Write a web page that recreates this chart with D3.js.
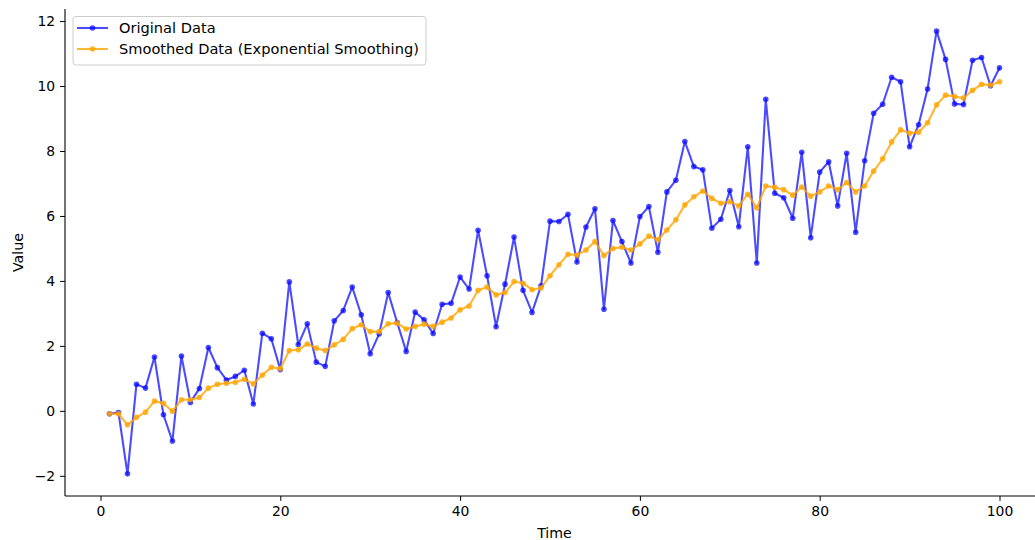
<!DOCTYPE html>
<html>
<head>
<meta charset="utf-8">
<script src="https://cdn.jsdelivr.net/npm/d3@7"></script>
<style>
  html, body { margin: 0; padding: 0; background: #fff; }
  svg { display: block; font-family: "DejaVu Sans", sans-serif; }
</style>
</head>
<body>
<svg id="chart" width="1035" height="540"></svg>
<script>
const time = [1,2,3,4,5,6,7,8,9,10,11,12,13,14,15,16,17,18,19,20,21,22,23,24,25,26,27,28,29,30,31,32,33,34,35,36,37,38,39,40,41,42,43,44,45,46,47,48,49,50,51,52,53,54,55,56,57,58,59,60,61,62,63,64,65,66,67,68,69,70,71,72,73,74,75,76,77,78,79,80,81,82,83,84,85,86,87,88,89,90,91,92,93,94,95,96,97,98,99,100];

const originalData = [-0.09,-0.05,-1.94,0.82,0.70,1.66,-0.12,-0.93,1.69,0.26,
  0.69,1.95,1.33,0.95,1.06,1.25,0.21,2.39,2.22,1.27,
  3.97,2.04,2.68,1.50,1.37,2.77,3.09,3.81,2.96,1.76,
  2.37,3.64,2.72,1.83,3.04,2.80,2.38,3.28,3.31,4.12,
  3.75,5.56,4.16,2.59,3.90,5.35,3.71,3.03,3.85,5.84,
  5.83,6.05,4.58,5.66,6.22,3.13,5.86,5.21,4.55,5.98,
  6.29,4.88,6.74,7.10,8.29,7.52,7.42,5.62,5.90,6.78,
  5.67,8.13,4.55,9.59,6.70,6.56,5.93,7.96,5.33,7.35,
  7.67,6.31,7.93,5.50,7.70,9.16,9.44,10.27,10.13,8.13,
  8.81,9.91,11.69,10.82,9.45,9.43,10.79,10.88,10.01,10.56];

const smoothedData = [-0.09,-0.09,-0.43,-0.20,-0.04,0.30,0.23,-0.01,0.34,0.34,
  0.41,0.70,0.82,0.85,0.88,0.97,0.83,1.10,1.34,1.30,
  1.86,1.88,2.06,1.93,1.86,2.03,2.20,2.53,2.65,2.44,
  2.44,2.68,2.70,2.52,2.60,2.67,2.60,2.73,2.86,3.11,
  3.23,3.71,3.81,3.57,3.64,3.98,3.93,3.73,3.78,4.16,
  4.50,4.82,4.80,4.95,5.21,4.78,5.00,5.04,4.95,5.14,
  5.38,5.27,5.57,5.88,6.34,6.59,6.77,6.54,6.39,6.44,
  6.31,6.67,6.25,6.92,6.88,6.81,6.64,6.89,6.61,6.74,
  6.92,6.81,7.03,6.74,6.92,7.38,7.76,8.28,8.65,8.55,
  8.58,8.87,9.42,9.72,9.68,9.63,9.87,10.05,10.03,10.13];

const xTicks = [0,20,40,60,80,100];
const yTicks = [-2,0,2,4,6,8,10,12];
const seriesNames = ["Original Data", "Smoothed Data (Exponential Smoothing)"];
const xLabel = "Time";
const yLabel = "Value";

(function () {
const series = [
  { name: seriesNames[0], values: originalData, color: "#0000ff", alpha: 0.7 },
  { name: seriesNames[1], values: smoothedData, color: "#ffa500", alpha: 0.8 }
];

const svg = d3.select("#chart");
const mLeft = 65, mRight = 1044, mTop = 9, mBottom = 496;
const fs = 13.9;
const legendFs = 14.6;

// matplotlib-like 5% margins
const xExt = d3.extent(time);
const xPad = (xExt[1] - xExt[0]) * 0.05;
const allY = originalData.concat(smoothedData);
const yExt = d3.extent(allY);
const yPad = (yExt[1] - yExt[0]) * 0.05;

const x = d3.scaleLinear().domain([xExt[0] - xPad, xExt[1] + xPad]).range([mLeft, mRight]);
const y = d3.scaleLinear().domain([yExt[0] - yPad, yExt[1] + yPad]).range([mBottom, mTop]);

// Axes
const xAxis = d3.axisBottom(x).tickValues(xTicks).tickSize(4.9).tickPadding(4.9).tickFormat(d3.format("d"));
const yAxis = d3.axisLeft(y).tickValues(yTicks).tickSize(4.9).tickPadding(4.9)
  .tickFormat(d => d < 0 ? "\u2212" + Math.abs(d) : String(d));

const gx = svg.append("g").attr("transform", `translate(0,${mBottom})`).call(xAxis);
const gy = svg.append("g").attr("transform", `translate(${mLeft},0)`).call(yAxis);
[gx, gy].forEach(g => {
  g.selectAll("path.domain").remove();
  g.selectAll(".tick line").attr("stroke", "#000").attr("stroke-width", 1);
  g.selectAll(".tick text").attr("fill", "#000").style("font-size", fs + "px")
    .style("font-family", "DejaVu Sans, sans-serif");
});
// spines (left and bottom only)
svg.append("line").attr("x1", mLeft).attr("x2", mLeft).attr("y1", mTop).attr("y2", mBottom)
  .attr("stroke", "#000").attr("stroke-width", 1.1);
svg.append("line").attr("x1", mLeft).attr("x2", mRight).attr("y1", mBottom).attr("y2", mBottom)
  .attr("stroke", "#000").attr("stroke-width", 1.1);

// axis labels
svg.append("text").attr("x", (mLeft + mRight) / 2).attr("y", 538)
  .attr("text-anchor", "middle").style("font-size", "14.2px").text(xLabel);
svg.append("text").attr("transform", `translate(23,${(mTop + mBottom) / 2}) rotate(-90)`)
  .attr("text-anchor", "middle").style("font-size", "14.2px").text(yLabel);

// lines
const line = d3.line().x((d, i) => x(time[i])).y(d => y(d));
series.forEach(s => {
  svg.append("path").datum(s.values).attr("d", line)
    .attr("fill", "none").attr("stroke", s.color).attr("stroke-opacity", s.alpha)
    .attr("stroke-width", 2.1).attr("stroke-linejoin", "round").attr("stroke-linecap", "square");
  svg.append("g").selectAll("circle").data(s.values).join("circle")
    .attr("cx", (d, i) => x(time[i])).attr("cy", d => y(d)).attr("r", 2.8)
    .attr("fill", s.color).attr("fill-opacity", s.alpha);
});

// legend
const lg = svg.append("g");
lg.append("rect").attr("x", 73).attr("y", 16.5).attr("width", 353).attr("height", 48.5)
  .attr("rx", 3).attr("fill", "#fff").attr("fill-opacity", 0.8)
  .attr("stroke", "#cccccc").attr("stroke-width", 1);
series.forEach((s, i) => {
  const cy = 28 + i * 21;
  lg.append("line").attr("x1", 77).attr("x2", 108).attr("y1", cy).attr("y2", cy)
    .attr("stroke", s.color).attr("stroke-opacity", s.alpha).attr("stroke-width", 2.1);
  lg.append("circle").attr("cx", 92.5).attr("cy", cy).attr("r", 2.8)
    .attr("fill", s.color).attr("fill-opacity", s.alpha);
  lg.append("text").attr("x", 119).attr("y", cy).attr("dy", "0.35em")
    .style("font-size", legendFs + "px").text(s.name);
});
})();
</script>
</body>
</html>
